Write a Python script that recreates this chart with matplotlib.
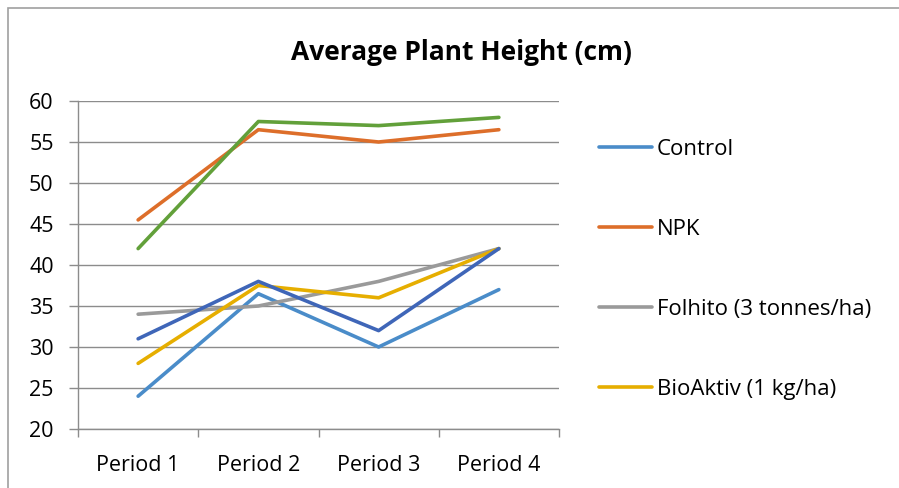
import matplotlib
matplotlib.use("Agg")
import matplotlib.pyplot as plt
from matplotlib.patches import Rectangle
from matplotlib.lines import Line2D

plt.rcParams['font.family'] = ['Open Sans', 'DejaVu Sans']

categories = ["Period 1", "Period 2", "Period 3", "Period 4"]
control = [24, 36.5, 30, 37]
npk = [45.5, 56.5, 55, 56.5]
folhito = [34, 35, 38, 42]
bioaktiv = [28, 37.5, 36, 42]
series5 = [31, 38, 32, 42]
series6 = [42, 57.5, 57, 58]

series = [
    ("Control", control, '#4A8CC9', True),
    ("NPK", npk, '#DD6E2A', True),
    ("Folhito (3 tonnes/ha)", folhito, '#9A9A9A', True),
    ("BioAktiv (1 kg/ha)", bioaktiv, '#E6AE00', True),
    ("Series 5", series5, '#3F66B8', False),
    ("Series 6", series6, '#62A03A', False),
]

W, H = 899, 488
fig = plt.figure(figsize=(W/100, H/100), dpi=100)
fig.patch.set_facecolor('white')
fig.patches.append(Rectangle((8/W, -0.1), 1.2, 1 - 8/H + 0.1, transform=fig.transFigure,
                             fill=False, edgecolor='#A0A0A0', linewidth=1.2))

ax = fig.add_axes([78/W, 1 - 429/H, (559-78)/W, (429-101)/H])
x = list(range(len(categories)))
handles = []
for name, vals, color, inleg in series:
    ln, = ax.plot(x, vals, color=color, linewidth=2.6, solid_capstyle='round')
    if inleg:
        handles.append((Line2D([], [], color=color, linewidth=2.6, solid_capstyle='round'), name))

ax.set_xlim(-0.5, 3.5)
ax.set_ylim(20, 60)
ax.set_yticks(range(20, 61, 5))
ax.yaxis.grid(True, color='#8C8C8C', linewidth=1.0)
ax.set_axisbelow(True)
ax.set_xticks(x)
ax.set_xticklabels(categories)
ax.set_xticks([-0.5, 0.5, 1.5, 2.5, 3.5], minor=True)
ax.tick_params(axis='x', which='major', length=0, pad=18.5, labelsize=15.5)
ax.tick_params(axis='x', which='minor', length=6, color='#8C8C8C', width=1.0, direction='out')
ax.tick_params(axis='y', length=6.5, color='#8C8C8C', width=1.0, labelsize=15.5, pad=11)
for s in ['top', 'right']:
    ax.spines[s].set_visible(False)
for s in ['left', 'bottom']:
    ax.spines[s].set_color('#8C8C8C')
    ax.spines[s].set_linewidth(1.0)

fig.text(461/W, 1 - 52/H, "Average Plant Height (cm)", ha='center', va='center',
         fontsize=19, fontweight='bold')

leg = fig.legend([h for h, _ in handles], [n for _, n in handles],
                 loc='upper left', bbox_to_anchor=(599/W, 1 - 139/H),
                 frameon=False, fontsize=16, handlelength=2.4, handletextpad=0.2,
                 labelspacing=2.65, borderaxespad=0, borderpad=0)

fig.savefig("out.png", dpi=100)
